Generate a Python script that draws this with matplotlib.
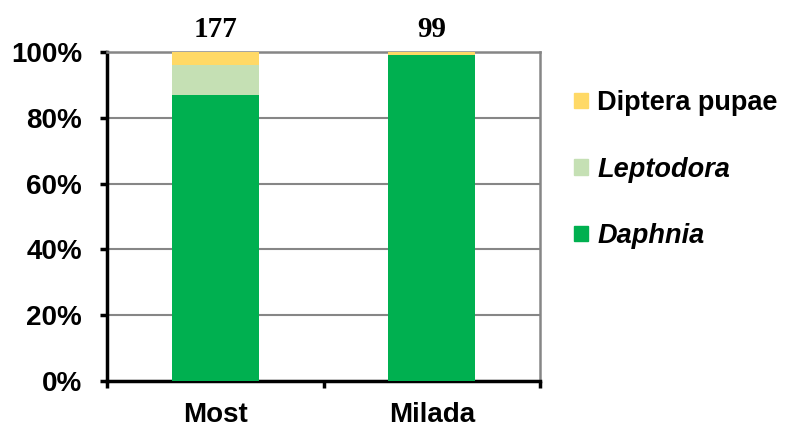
import matplotlib.pyplot as plt
from matplotlib.patches import Patch

# --- data ---
sites = ["Most", "Milada"]
counts = [177, 99]
daphnia = [87.0, 99.2]
leptodora = [9.0, 0.0]
diptera = [4.0, 0.8]

col_daphnia = "#00B050"
col_lepto = "#C5E0B4"
col_dipt = "#FFD966"

plt.rcParams['font.family'] = ['Liberation Sans', 'DejaVu Sans']

fig = plt.figure(figsize=(7.88, 4.30), dpi=100)
ax = fig.add_axes([0.1358, 0.114, 0.5495, 0.765])

x = list(range(len(sites)))
w = 0.4
ax.bar(x, daphnia, w, color=col_daphnia, zorder=3)
ax.bar(x, leptodora, w, bottom=daphnia, color=col_lepto, zorder=3)
bottom2 = [a + b for a, b in zip(daphnia, leptodora)]
ax.bar(x, diptera, w, bottom=bottom2, color=col_dipt, zorder=3)

ax.set_xlim(-0.5, 1.5)
ax.set_ylim(0, 100)

# grid
ax.set_yticks([0, 20, 40, 60, 80, 100])
ax.set_yticklabels([f"{v}%" for v in [0, 20, 40, 60, 80, 100]])
ax.yaxis.grid(True, color="#868686", linewidth=1.5, zorder=0)
ax.set_axisbelow(True)

ax.set_xticks(x)
ax.set_xticklabels(sites)
ax.set_xticks([-0.5, 0.5, 1.5], minor=True)
ax.tick_params(axis='x', which='major', length=0, pad=15)
ax.tick_params(axis='x', which='minor', length=5, width=2.5, direction='out')
ax.tick_params(axis='y', length=5, width=2.5, direction='out', pad=13)

for lab in ax.get_xticklabels() + ax.get_yticklabels():
    lab.set_fontsize(20)
    lab.set_fontweight('bold')

for s in ['left', 'bottom']:
    ax.spines[s].set_linewidth(2.5)
    ax.spines[s].set_color('black')
for s in ['top', 'right']:
    ax.spines[s].set_linewidth(1.8)
    ax.spines[s].set_color('#868686')

# counts above bars
for xi, c in zip(x, counts):
    ax.annotate(str(c), (xi, 100), xytext=(0, 11), textcoords='offset points',
                ha='center', va='baseline', fontsize=21, fontweight='bold',
                family=['Liberation Serif', 'DejaVu Serif'], annotation_clip=False)

# legend
handles = [Patch(color=col_dipt), Patch(color=col_lepto), Patch(color=col_daphnia)]
labels = ["Diptera pupae", "Leptodora", "Daphnia"]
leg = fig.legend(handles, labels, loc='upper left', bbox_to_anchor=(0.715, 0.816),
                 frameon=False, prop={'size': 19.5, 'weight': 'bold'},
                 handlelength=0.5, handleheight=0.5, handletextpad=0.35,
                 labelspacing=1.5, borderaxespad=0)
texts = leg.get_texts()
texts[1].set_style('italic')
texts[2].set_style('italic')

fig.savefig("out.png", dpi=100)
